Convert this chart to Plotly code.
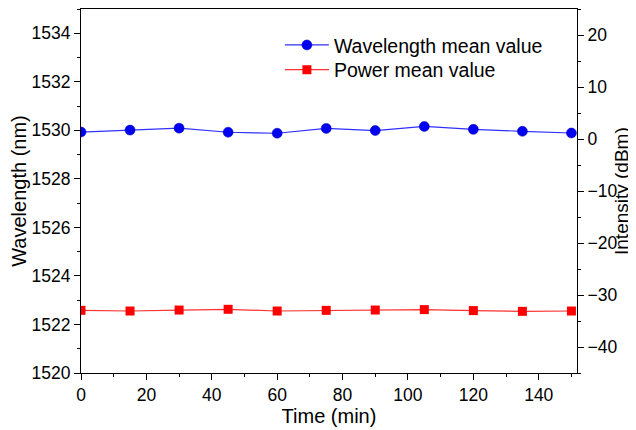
import plotly.graph_objects as go

time_min = [0, 15, 30, 45, 60, 75, 90, 105, 120, 135, 150]
wavelength_nm = [1529.93, 1530.01, 1530.09, 1529.92, 1529.88, 1530.08, 1529.99, 1530.16, 1530.04, 1529.96, 1529.89]
power_dbm = [-32.95, -33.08, -32.89, -32.75, -33.08, -32.95, -32.89, -32.81, -33.0, -33.14, -33.08]
right_axis_title = "Intensity (dBm)"

FONT = "Liberation Sans, Arial, sans-serif"

fig = go.Figure()
fig.add_trace(go.Scatter(
    x=time_min, y=wavelength_nm, name="Wavelength mean value",
    mode="lines+markers",
    line=dict(color="#3030ff", width=1.2),
    marker=dict(symbol="circle", size=10, color="#0000f0",
                line=dict(color="#0000c0", width=0.5)),
    yaxis="y", legend="legend",
))
fig.add_trace(go.Scatter(
    x=time_min, y=power_dbm, name="Power mean value",
    mode="lines+markers",
    line=dict(color="#ff3030", width=1.2),
    marker=dict(symbol="square", size=9, color="#ff0000"),
    yaxis="y2", legend="legend2",
))

axis_common = dict(
    showgrid=False, zeroline=False, showline=True, linecolor="black", linewidth=1.2,
    ticks="outside", ticklen=6, tickwidth=1.2, tickcolor="black",
    tickfont=dict(family=FONT, size=17.5, color="black"),
    automargin=False,
)
minor_style = dict(ticks="outside", ticklen=3, tickwidth=1.2, tickcolor="black")
title_font = dict(family=FONT, size=20, color="black")
legend_style = dict(xanchor="left", yanchor="top", bgcolor="rgba(0,0,0,0)",
                    font=dict(family=FONT, size=19.5, color="black"), itemwidth=44)

# The page body has an 8px default margin, so the figure is sized to fit the 636x430 window.
fig.update_layout(
    width=628, height=422,
    margin=dict(l=73, r=59, t=1, b=57, autoexpand=False),
    paper_bgcolor="white", plot_bgcolor="white",
    font=dict(family=FONT, size=18, color="black"),
    showlegend=True,
    legend=dict(x=0.401, y=0.954, **legend_style),
    legend2=dict(x=0.401, y=0.886, **legend_style),
    xaxis=dict(
        range=[0, 151.7], tickmode="linear", tick0=0, dtick=20,
        mirror=True,
        minor=dict(dtick=10, **minor_style),
        title=dict(text="Time (min)", font=title_font, standoff=0),
        **axis_common,
    ),
    yaxis=dict(
        range=[1520, 1535], tickmode="linear", tick0=1520, dtick=2,
        minor=dict(dtick=1, **minor_style),
        title=dict(text="Wavelength (nm)", font=title_font, standoff=0),
        **axis_common,
    ),
    yaxis2=dict(
        range=[-45, 25], tickmode="linear", tick0=-40, dtick=10,
        overlaying="y", side="right",
        minor=dict(dtick=5, **minor_style),
        **axis_common,
    ),
    annotations=[dict(
        text=right_axis_title, xref="paper", yref="paper",
        x=1.0887, y=0.5, xanchor="center", yanchor="middle",
        textangle=-90, showarrow=False,
        font=dict(family=FONT, size=19, color="black"),
    )],
)

fig.write_html("out.html")
